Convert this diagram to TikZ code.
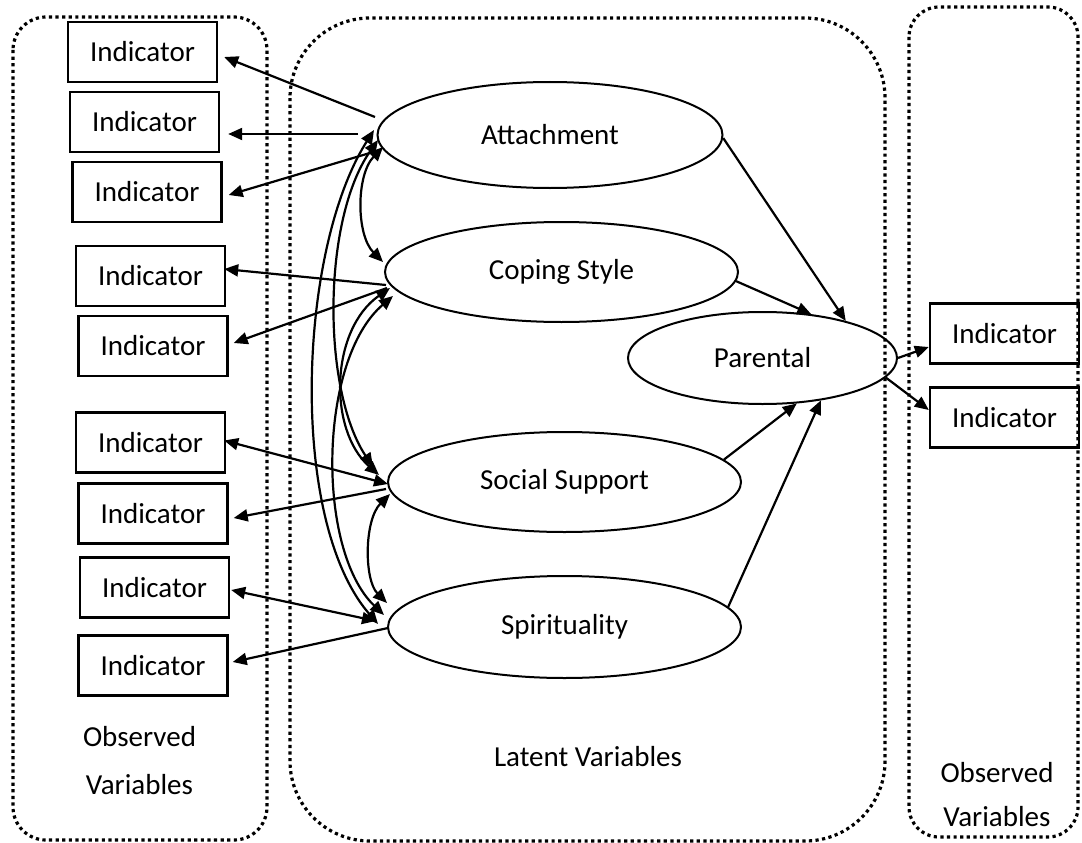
\documentclass[tikz,border=0pt]{standalone}
\usepackage{fontspec}
\setmainfont{Carlito}
\usetikzlibrary{shapes.geometric,arrows.meta,calc}

\begin{document}
\begin{tikzpicture}[x=1pt,y=-1pt,
  lbl/.style={font=\fontsize{29}{34}\selectfont},
  ind/.style={draw, line width=2.4pt, minimum width=149pt, minimum height=60pt, inner sep=0pt, lbl},
  lat/.style={ellipse, draw, line width=2pt, inner sep=0pt, lbl},
  grp/.style={line width=3.2pt, dash pattern=on 3.2pt off 3.4pt},
  arr/.style={line width=2.2pt, -{Triangle[length=14pt,width=12pt]}},
  darr/.style={line width=2.2pt, {Triangle[length=14pt,width=12pt]}-{Triangle[length=14pt,width=12pt]}},
]
\useasboundingbox (0,0) rectangle (1082,843);

% dotted group frames
\draw[grp, rounded corners=33pt] (13,17) rectangle (267,840);
\draw[grp, rounded corners=80pt] (290,18) rectangle (885,841);
\draw[grp, rounded corners=30pt] (909,7) rectangle (1078,837);

% observed indicators (left)
\node[ind] (b1) at (142.5,52) {Indicator};
\node[ind] (b2) at (144.5,122) {Indicator};
\node[ind] (b3) at (147,192) {Indicator};
\node[ind] (b4) at (150.5,276) {Indicator};
\node[ind] (b5) at (153,346) {Indicator};
\node[ind] (b6) at (150.5,442.5) {Indicator};
\node[ind] (b7) at (153,513.5) {Indicator};
\node[ind] (b8) at (154.5,587.5) {Indicator};
\node[ind] (b9) at (153,665.5) {Indicator};

% observed indicators (right)
\node[ind] (rA) at (1004.5,333.5) {Indicator};
\node[ind] (rB) at (1004.5,417.5) {Indicator};

% latent variables
\node[lat, minimum width=345pt, minimum height=106pt] (att) at (550,135) {Attachment};
\node[lat, minimum width=353pt, minimum height=100pt] (cop) at (561.5,272) {Coping Style};
\node[lat, minimum width=353pt, minimum height=100pt] (soc) at (564.5,482) {Social Support};
\node[lat, minimum width=353pt, minimum height=102pt] (spi) at (564.5,627) {Spirituality};
\node[lat, minimum width=269pt, minimum height=92pt] (par) at (762.5,358) {Parental};

% group captions
\node[lbl, anchor=base] (obsLa) at (139.5,746) {Observed};
\node[lbl, anchor=base] (obsLb) at (139.5,794) {Variables};
\node[lbl] (latent) at (588,757) {Latent Variables};
\node[lbl, anchor=base] (obsRa) at (997,782) {Observed};
\node[lbl, anchor=base] (obsRb) at (997,826) {Variables};

% loading line ends beside the latent ellipses
\coordinate (a1) at (375,117);
\coordinate (a2) at (358,134);
\coordinate (a3) at (380,150);
\coordinate (c4) at (386,285);
\coordinate (c5) at (387,288);
\coordinate (s6) at (388,484);
\coordinate (s7) at (386,489);
\coordinate (p8) at (376,621);
\coordinate (p9) at (388,628);

% loadings
\draw[arr] (a1) -- ([shift={(6,5)}]b1.east);
\draw[arr] (a2) -- ([shift={(8,12)}]b2.east);
\draw[arr] (a3) -- ([shift={(6,3)}]b3.east);
\draw[arr] (c4) -- ([shift={(-2,-7)}]b4.east);
\draw[arr] (c5) -- ([shift={(5,-3)}]b5.east);
\draw[darr] (s6) -- ([shift={(-2,-2)}]b6.east);
\draw[arr] (s7) -- ([shift={(5,4.5)}]b7.east);
\draw[darr] (p8) -- ([shift={(1,2.5)}]b8.east);
\draw[arr] (p9) -- ([shift={(4,-3.5)}]b9.east);

% correlation curve ends
\coordinate (ac1) at (383,147);  \coordinate (ac2) at (383,262);
\coordinate (as1) at (378,140);  \coordinate (as2) at (373,467);
\coordinate (ap1) at (374,130);  \coordinate (ap2) at (378,624);
\coordinate (cs1) at (390,288);  \coordinate (cs2) at (379,475);
\coordinate (cp1) at (393,296);  \coordinate (cp2) at (384,615);
\coordinate (sp1) at (390,494);  \coordinate (sp2) at (387,603);

% correlations among the exogenous latents
\draw[darr] (ac1) .. controls (356,175) and (356,235) .. (ac2);
\draw[darr] (as1) .. controls (322,220) and (322,390) .. (as2);
\draw[darr] (ap1) .. controls (298,250) and (288,520) .. (ap2);
\draw[darr] (cs1) .. controls (330,330) and (328,430) .. (cs2);
\draw[darr] (cp1) .. controls (318,360) and (316,550) .. (cp2);
\draw[darr] (sp1) .. controls (364,520) and (364,580) .. (sp2);

% structural paths
\draw[arr] (att.-1) -- (par.24);
\draw[arr] (cop.-3) -- (par.42);
\draw[arr] (soc.8) -- (par.-53);
\draw[arr] (spi.7) -- (par.-36);

% Parental indicators
\draw[arr] (par.east) -- ([shift={(0,13.5)}]rA.west);
\draw[arr] (par.-9) -- ([shift={(0,-7.5)}]rB.west);
\end{tikzpicture}
\end{document}
